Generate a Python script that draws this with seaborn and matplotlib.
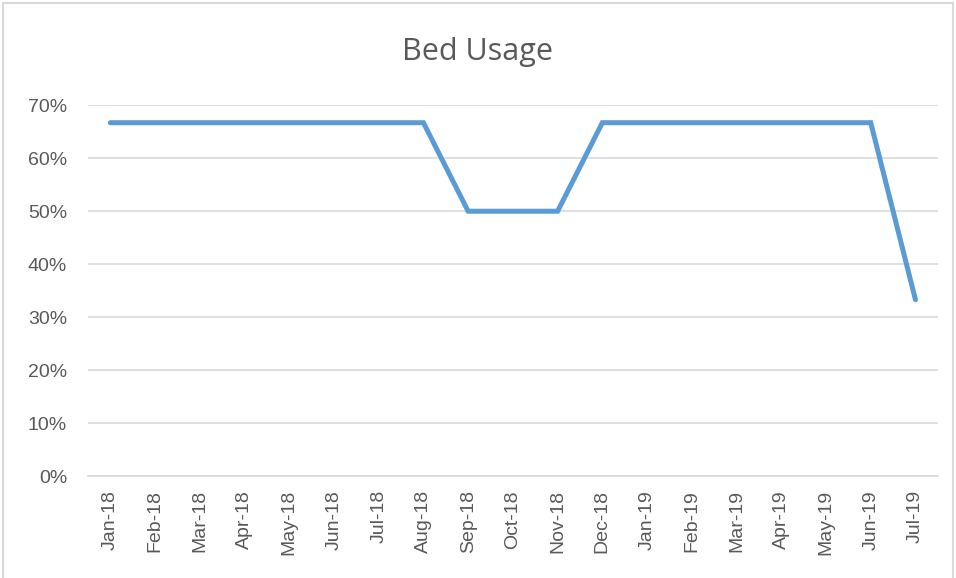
import matplotlib
matplotlib.use("Agg")
import matplotlib.pyplot as plt
import seaborn as sns
import pandas as pd
from matplotlib.ticker import PercentFormatter, FixedLocator, NullFormatter
from matplotlib.patches import Rectangle

# Data
months = ["Jan-18", "Feb-18", "Mar-18", "Apr-18", "May-18", "Jun-18", "Jul-18",
          "Aug-18", "Sep-18", "Oct-18", "Nov-18", "Dec-18", "Jan-19", "Feb-19",
          "Mar-19", "Apr-19", "May-19", "Jun-19", "Jul-19"]
usage = [0.667, 0.667, 0.667, 0.667, 0.667, 0.667, 0.667,
         0.667, 0.5, 0.5, 0.5, 0.667, 0.667, 0.667,
         0.667, 0.667, 0.667, 0.667, 0.333]

df = pd.DataFrame({"Month": months, "Usage": usage, "idx": range(len(months))})

sns.set_style("white")
plt.rcParams['font.family'] = ['Liberation Sans', 'DejaVu Sans']

fig = plt.figure(figsize=(9.56, 5.78), dpi=100)
ax = fig.add_axes([0.092, 0.176, 0.889, 0.642])

grey = "#595959"
sns.lineplot(data=df, x="idx", y="Usage", ax=ax, color="#5b9bd5", linewidth=3.6,
             solid_capstyle="round", solid_joinstyle="miter")

ax.set_xlim(-0.5, len(months) - 0.5)
ax.set_ylim(0, 0.7)
ax.set_yticks([i / 10 for i in range(8)])
ax.yaxis.set_major_formatter(PercentFormatter(1.0, decimals=0))
ax.grid(axis="y", color="#d9d9d9", linewidth=1.2)
ax.set_axisbelow(True)

# category labels centred, tick marks between categories
ax.set_xticks(range(len(months)))
ax.set_xticklabels(months, rotation=90, color=grey, fontsize=14)
ax.tick_params(axis="x", which="major", length=0, pad=10)
ax.xaxis.set_minor_locator(FixedLocator([i - 0.5 for i in range(len(months) + 1)]))
ax.xaxis.set_minor_formatter(NullFormatter())
ax.tick_params(axis="x", which="minor", length=8, color="#d9d9d9", width=1.2, direction="out")
ax.tick_params(axis="y", length=0, labelsize=14, labelcolor=grey, pad=15)

for s in ["top", "right", "left"]:
    ax.spines[s].set_visible(False)
ax.spines["bottom"].set_color("#d9d9d9")
ax.spines["bottom"].set_linewidth(1.2)

ax.set_xlabel("")
ax.set_ylabel("")
fig.text(0.5, 0.91, "Bed Usage", ha="center", va="center", fontsize=22, color=grey,
         family=["Open Sans", "DejaVu Sans"])

# chart border
fig.patches.append(Rectangle((0.003, -0.01), 0.994, 1.005, transform=fig.transFigure,
                             fill=False, edgecolor="#d9d9d9", linewidth=1.5))

fig.savefig("out.png", dpi=100)
